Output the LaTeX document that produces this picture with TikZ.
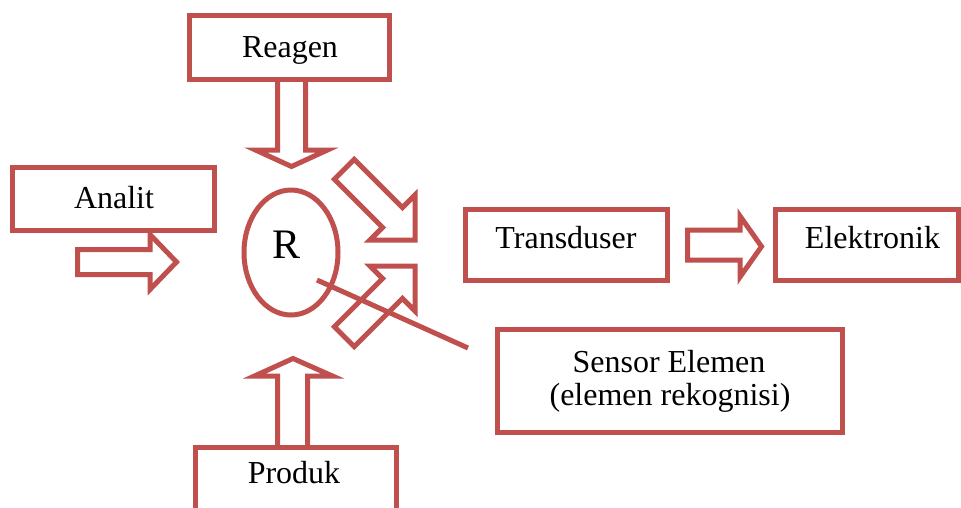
\documentclass[tikz,border=0pt]{standalone}
\usepackage{fontspec}
\setmainfont{Liberation Serif}
\usetikzlibrary{shapes.geometric}
\definecolor{accred}{RGB}{192,80,77}
\tikzset{
  box/.style={draw=accred, line width=5pt, rectangle, inner sep=0pt},
  blockarrow/.style={draw=accred, line width=5pt, line join=miter},
  txt/.style={inner sep=0pt, anchor=base, font=\fontsize{32pt}{38pt}\selectfont},
  bigtxt/.style={inner sep=0pt, anchor=base, font=\fontsize{42pt}{48pt}\selectfont},
  link/.style={draw=accred, line width=5pt}
}
\begin{document}
\begin{tikzpicture}[x=1pt,y=-1pt]
\useasboundingbox (0,0) rectangle (961,507);
\clip (0,0) rectangle (961,507);
\fill[white] (0,0) rectangle (961,507);

% boxes
\node[box, minimum width=200pt, minimum height=64pt] (reagen) at (289.5,47.5) {};
\node[box, minimum width=202pt, minimum height=63pt] (analit) at (113.5,199) {};
\node[box, minimum width=202pt, minimum height=71pt] (trans) at (566.5,245) {};
\node[box, minimum width=183pt, minimum height=71pt] (elek) at (867,245) {};
\node[box, minimum width=345pt, minimum height=103pt] (sensor) at (670,381) {};
\node[box, minimum width=201pt, minimum height=73pt] (produk) at (296,484) {};

% texts
\node[txt] (treagen) at (290,57) {Reagen};
\node[txt] (tanalit) at (114,208) {Analit};
\node[txt] (ttrans) at (566,248) {Transduser};
\node[txt] (telek) at (872.5,248) {Elektronik};
\node[txt] (tsens1) at (669,372) {Sensor Elemen};
\node[txt] (tsens2) at (670,405) {(elemen rekognisi)};
\node[txt] (tprod) at (294,483) {Produk};

% ellipse R
\node[draw=accred, line width=5pt, ellipse, inner sep=0pt, minimum width=94pt, minimum height=125pt] (rell) at (291,252.5) {};
\node[bigtxt] (tr) at (287,258) {R};

% block arrows
% Reagen down
\draw[blockarrow] (277.5,79.5) -- (277.5,150) -- (255.5,150) -- (291.5,166.5) -- (327.5,150) -- (305.5,150) -- (305.5,79.5);
% Produk up
\draw[blockarrow] (277.5,447.5) -- (277.5,376) -- (254.5,376) -- (293,358.5) -- (332.5,376) -- (307.5,376) -- (307.5,447.5);
% Analit right
\draw[blockarrow] (77.5,249.5) -- (150,249.5) -- (150,234.5) -- (176.5,262) -- (150,289.5) -- (150,274.5) -- (77.5,274.5) -- cycle;
% Transduser -> Elektronik
\draw[blockarrow] (687.5,230) -- (740,230) -- (740,216) -- (761.5,246.5) -- (740,277) -- (740,260) -- (687.5,260) -- cycle;
% diagonal down-right
\draw[blockarrow] (354.2,159.4) -- (402.4,207.6) -- (415,195) -- (415,240) -- (370,240) -- (382.6,227.4) -- (334.4,179.2) -- cycle;
% diagonal up-right
\draw[blockarrow] (354.2,346.6) -- (402.4,298.4) -- (415,311) -- (415,266) -- (370,266) -- (382.6,278.6) -- (334.4,326.8) -- cycle;

% line from R to sensor element
\coordinate (ls) at (317,280);
\coordinate (le) at (468,348);
\draw[link] (ls) -- (le);
\end{tikzpicture}
\end{document}
